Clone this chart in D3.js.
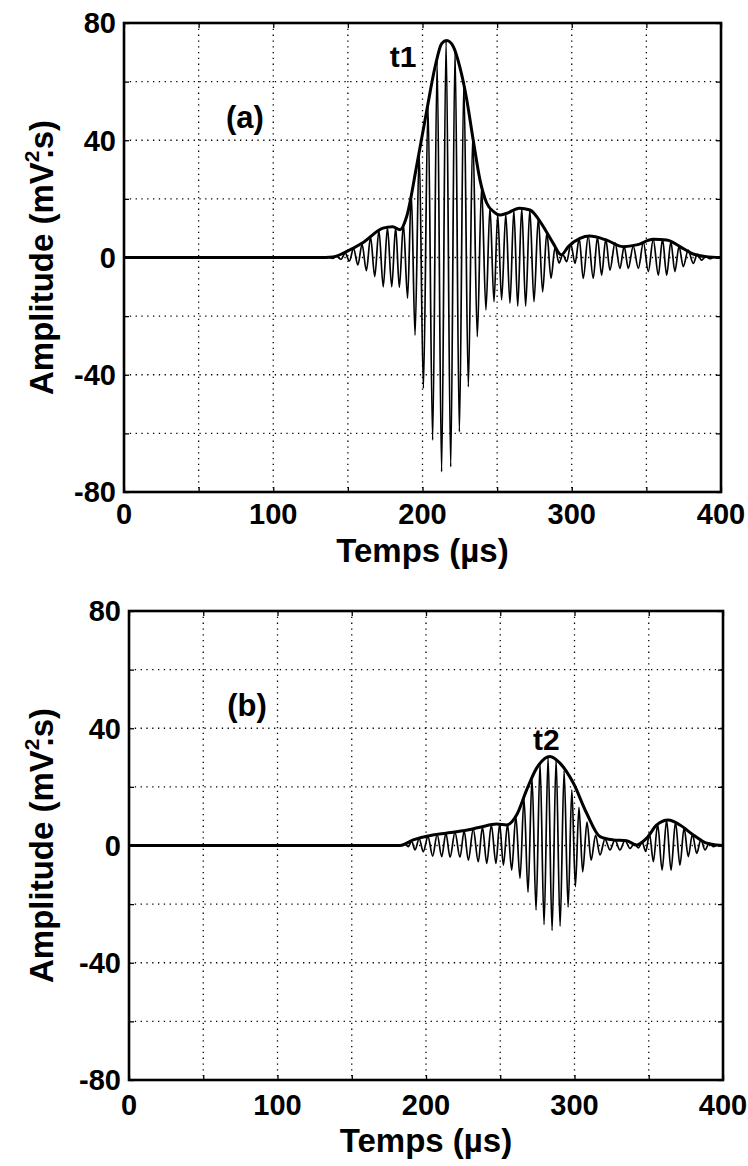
<!DOCTYPE html>
<html>
<head>
<meta charset="utf-8">
<script src="https://cdn.jsdelivr.net/npm/d3@7"></script>
<style>
  body { margin: 0; background: #fff; }
  svg text { font-family: "Liberation Sans", Arial, sans-serif; font-weight: bold; fill: #000; }
</style>
</head>
<body>
<div id="chart"></div>
<script>
// axis settings
let xDomain = [0, 400]
let yDomain = [-80, 80]
let xTickLabels = [0, 100, 200, 300, 400]
let yTickLabels = [-80, -40, 0, 40, 80]

// panel (a): successive peaks / troughs of the signal [time µs, amplitude]
let sigA = [
  [0, 0], [130, 0], [136.9, 0.1], [139.7, -0.3], [142.5, 0.4], [145.4, -0.6], [148.2, 1.5], [151, -1.2],
  [153.8, 3], [156.7, -2.5], [159.5, 4.5], [162.4, -4.5], [165.2, 7], [168, -6.5], [170.8, 9.3], [173.7, -10],
  [176.5, 10.2], [179.4, -10], [182, 10.3], [184.5, -10.2], [187.2, 11.5], [190, -13.9], [192.5, 22], [195, -26.5],
  [197.8, 36], [200.6, -44.6], [203.7, 52], [206.8, -62.3], [209.8, 67], [212.8, -73.1], [215.8, 74], [218.9, -71.4],
  [221.8, 71], [224.7, -59.5], [227.7, 60], [230.7, -44.1], [233.7, 42], [236.7, -27], [239.6, 24], [242.5, -17.9],
  [245.2, 17], [247.9, -15.1], [250.4, 14.8], [253, -14.5], [255.8, 14.8], [258.6, -15.6], [261.2, 16.2], [263.8, -16.6],
  [266.5, 16.9], [269.1, -16.6], [271.9, 16.4], [274.7, -15.1], [277.6, 13.5], [280.5, -11.7], [283.3, 8.5], [286.1, -7.1],
  [288.8, 3.5], [291.5, -1.9], [294, 1], [296.6, -1.4], [299.4, 4.5], [302.2, -2], [305, 6.5], [307.7, -7.1],
  [311, 7.3], [314.4, -7.1], [317.2, 7], [320, -6], [322.8, 6.3], [325.6, -4.3], [329, 5], [332.3, -3.7],
  [335.1, 3.8], [337.9, -3.7], [341.2, 3.9], [344.6, -3.7], [348, 5.2], [351.3, -4.8], [354.6, 6.2], [358, -6],
  [360.8, 6.3], [363.6, -6], [366.4, 5.3], [369.1, -4.8], [371.9, 3.8], [374.7, -3.1], [378, 2.5], [381.4, -2],
  [384.2, 1.2], [387, -0.9], [389.8, 0.4], [392.6, -0.4], [395.3, 0.1], [398, -0.1], [400, 0]
]
// panel (a): envelope
let envA = [
  [0, 0], [130, 0], [140, 0.2], [149, 2], [160, 5], [173.5, 10], [180, 10.5], [185, 9.5], [189.4, 14],
  [196, 31], [202.8, 50], [208.4, 65], [212.9, 73], [216.2, 74], [220.6, 72], [225, 65], [229.6, 54],
  [234, 40], [238.5, 26.5], [243, 18.6], [248, 15.5], [252, 14.5], [256, 15], [265, 16.8], [272, 16.2],
  [281, 10.5], [287.6, 4.8], [293, 0.9], [297.7, 3.7], [305.5, 6.5], [312, 7.3], [323, 6], [334.5, 3.7],
  [343.5, 4.3], [354.6, 6.2], [363.6, 6], [372.5, 3.7], [381.4, 1.2], [390, 0.3], [400, 0]
]

// panel (b): successive peaks / troughs of the signal
let sigB = [
  [0, 0], [183, 0], [185.5, 0.6], [188.1, -0.4], [190.3, 1.5], [192.6, -1.5], [195.4, 2.3], [198.2, -2.1],
  [201.3, 3], [204.5, -3.6], [207.5, 3.8], [210.6, -3.8], [213.4, 4.2], [216.2, -4], [219.5, 4.5], [222.9, -4],
  [225.7, 5], [228.5, -5], [231.8, 5.6], [235.2, -5.5], [238, 6.3], [240.9, -6.1], [244, 7], [247.1, -6.1],
  [249.6, 7.4], [252.1, -6.7], [254.9, 7.2], [257.7, -8.4], [260.5, 10], [263.3, -11.2], [266, 16], [268.7, -16],
  [271.4, 23], [274.1, -22], [276.8, 28], [279.5, -27], [282.2, 30.2], [284.9, -29], [287.6, 29.4], [290.3, -27.5],
  [293, 25.5], [295.7, -21], [298.2, 19], [300.6, -14], [303, 13], [305.5, -9], [308.4, 8], [311.2, -5],
  [314.2, 3.5], [317.2, -3.2], [320.5, 2.2], [323.9, -1.5], [327.2, 1.9], [330.6, -1.5], [334, 1.7], [337.4, -1],
  [340.2, 0.6], [343, -0.8], [345.5, 1.2], [348, -2], [350.5, 4], [353.1, -5.5], [356, 7.2], [359, -8.4],
  [362, 8.6], [365, -8.4], [368, 8], [371, -6.7], [373.8, 6], [376.6, -3.8], [379.4, 3.8], [382.3, -2.7],
  [385.1, 2], [387.9, -1.5], [390.7, 0.8], [393.5, -0.4], [396.2, 0.2], [399, -0.1], [400, 0]
]
// panel (b): envelope
let envB = [
  [0, 0], [182.5, 0], [191.4, 1.9], [204.6, 3.6], [213.6, 4.2], [225, 5], [236.4, 6.2], [247.6, 7.3],
  [254.4, 7], [261, 10.4], [267.8, 19], [274.5, 26.4], [283.5, 30.4], [290.2, 28.1], [299.2, 21.3],
  [308.2, 11], [317.2, 3], [326.1, 1.9], [335.1, 1.6], [341.9, 0.2], [348.6, 2.5], [355.4, 7],
  [363.2, 8.7], [371, 7], [380, 3.6], [389, 0.8], [395.7, 0.2], [400, 0]
]

let svg = d3.select("#chart")
    .append("svg")
        .attr("width", 748)
        .attr("height", 1166)

function drawPanel(p){

    let x = d3.scaleLinear().domain(xDomain).range([p.left, p.right])
    let y = d3.scaleLinear().domain(yDomain).range([p.bottom, p.top])

    let g = svg.append("g")

    //dotted grid
    g.selectAll(".vgrid")
        .data(x.ticks(8))
        .join("line")
        .attr("x1", d => x(d)).attr("x2", d => x(d))
        .attr("y1", p.top).attr("y2", p.bottom)
        .attr("stroke", "#000").attr("stroke-width", 1.3)
        .attr("stroke-dasharray", "1.3,4.5")
    g.selectAll(".hgrid")
        .data(y.ticks(8))
        .join("line")
        .attr("y1", d => y(d)).attr("y2", d => y(d))
        .attr("x1", p.left).attr("x2", p.right)
        .attr("stroke", "#000").attr("stroke-width", 1.3)
        .attr("stroke-dasharray", "1.3,4.5")

    //small inward ticks on the frame
    let inner = [
        d3.axisBottom(x).ticks(8).tickSize(-5).tickFormat(""),
        d3.axisTop(x).ticks(8).tickSize(-5).tickFormat(""),
        d3.axisLeft(y).ticks(8).tickSize(-5).tickFormat(""),
        d3.axisRight(y).ticks(8).tickSize(-5).tickFormat("")
    ]
    let pos = [`translate(0,${p.bottom})`, `translate(0,${p.top})`, `translate(${p.left},0)`, `translate(${p.right},0)`]
    inner.forEach((ax, i) => {
        let a = g.append("g").attr("transform", pos[i]).call(ax)
        a.select(".domain").remove()
        a.selectAll("line").attr("stroke-width", 1.3)
    })

    //signal and envelope
    let line = d3.line()
        .x(d => x(d[0]))
        .y(d => y(d[1]))
        .curve(d3.curveMonotoneX)

    g.append("path")
        .datum(p.sig)
        .attr("d", line)
        .attr("fill", "none")
        .attr("stroke", "#000")
        .attr("stroke-width", 1.7)

    g.append("path")
        .datum(p.env)
        .attr("d", line)
        .attr("fill", "none")
        .attr("stroke", "#000")
        .attr("stroke-width", 3)

    //frame
    g.append("rect")
        .attr("x", p.left).attr("y", p.top)
        .attr("width", p.right - p.left).attr("height", p.bottom - p.top)
        .attr("fill", "none").attr("stroke", "#000").attr("stroke-width", 2.6)

    //tick labels
    g.selectAll(".xlab")
        .data(xTickLabels)
        .join("text")
        .attr("x", d => x(d))
        .attr("y", p.bottom + p.tickOff)
        .attr("text-anchor", "middle")
        .style("font-size", "29px")
        .text(d => d)
    g.selectAll(".ylab")
        .data(yTickLabels)
        .join("text")
        .attr("x", p.left - 8)
        .attr("y", d => y(d))
        .attr("dy", "0.36em")
        .attr("text-anchor", "end")
        .style("font-size", "29px")
        .text(d => d)

    //axis titles
    g.append("text")
        .attr("x", (p.left + p.right) / 2)
        .attr("y", p.bottom + p.titleOff)
        .attr("text-anchor", "middle")
        .style("font-size", "33px")
        .text("Temps (\u00b5s)")

    let yt = g.append("text")
        .attr("transform", `translate(53,${y(0)}) rotate(-90)`)
        .attr("text-anchor", "middle")
        .style("font-size", "33px")
    yt.append("tspan").text("Amplitude (mV")
    yt.append("tspan").attr("dy", -14).style("font-size", "21px").text("2")
    yt.append("tspan").attr("dy", 14).attr("dx", -8).text(".s)")

    //annotations
    g.append("text")
        .attr("x", p.tag[0]).attr("y", p.tag[1])
        .attr("text-anchor", "middle")
        .style("font-size", "31px")
        .text(p.tagText)
    g.append("text")
        .attr("x", x(p.peak[0])).attr("y", p.peak[1])
        .attr("text-anchor", "middle")
        .style("font-size", "30px")
        .text(p.peakText)
}

drawPanel({left: 124, right: 721, top: 23, bottom: 492, tickOff: 32, titleOff: 70, sig: sigA, env: envA,
    tag: [245, 128], tagText: "(a)", peak: [187, 67], peakText: "t1"})
drawPanel({left: 129, right: 723, top: 611, bottom: 1080, tickOff: 35, titleOff: 72, sig: sigB, env: envB,
    tag: [247, 716], tagText: "(b)", peak: [281, 750], peakText: "t2"})
</script>
</body>
</html>
